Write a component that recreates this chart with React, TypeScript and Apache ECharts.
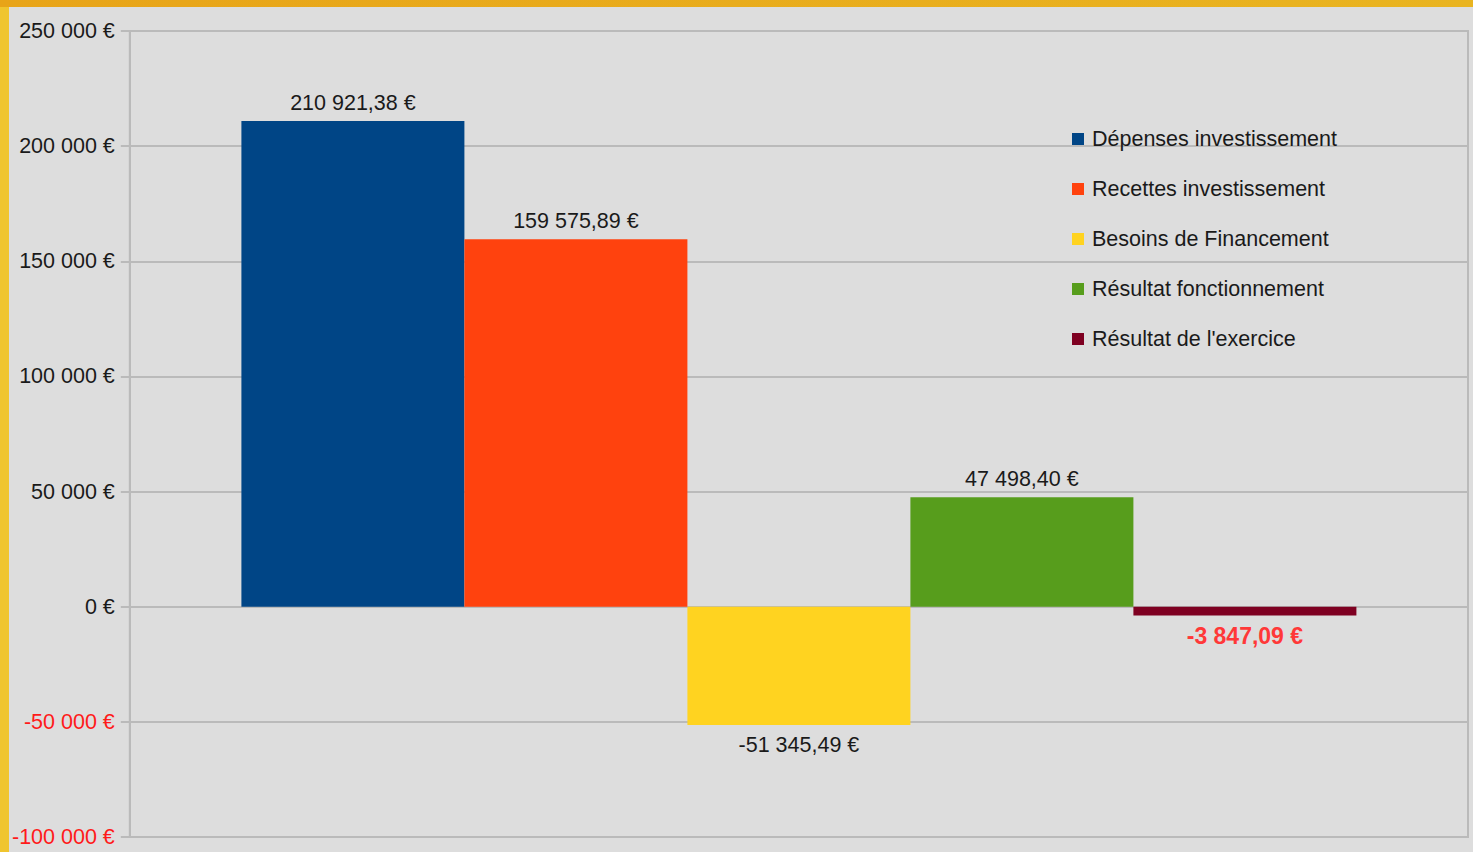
import React, { useEffect, useRef } from "react";
import * as echarts from "echarts";

const seriesNames = [
  "Dépenses investissement",
  "Recettes investissement",
  "Besoins de Financement",
  "Résultat fonctionnement",
  "Résultat de l'exercice",
];
const seriesValues = [210921.38, 159575.89, -51345.49, 47498.4, -3847.09];
const seriesColors = ["#004586", "#ff420e", "#ffd320", "#579d1c", "#7e0021"];
const categories = [""];
const yMin = -100000;
const yMax = 250000;
const yInterval = 50000;

const FONT = "'Liberation Sans', Arial, sans-serif";
const FS = 21.5;

function fmtNum(v: number, decimals: number): string {
  const neg = v < 0;
  const s = Math.abs(v).toFixed(decimals);
  const [intPart, decPart] = s.split(".");
  const grouped = intPart.replace(/\B(?=(\d{3})+(?!\d))/g, " ");
  return (neg ? "-" : "") + grouped + (decPart ? "," + decPart : "") + " €";
}

export default function App() {
  const ref = useRef<HTMLDivElement>(null);
  useEffect(() => {
    if (!ref.current) return;
    const chart = echarts.init(ref.current, null, { renderer: "svg" });
    const series = seriesNames.map((name, i) => {
      const v = seriesValues[i];
      const isLast = i === seriesNames.length - 1;
      return {
        name,
        type: "bar",
        barWidth: 223,
        barGap: "0%",
        itemStyle: { color: seriesColors[i] },
        data: [
          {
            value: v,
            label: {
              show: true,
              position: v < 0 ? "bottom" : "top",
              distance: v < 0 ? 9 : 7,
              formatter: () => fmtNum(v, 2),
              fontSize: isLast ? 23 : FS,
              fontFamily: FONT,
              fontWeight: isLast ? "bold" : "normal",
              color: isLast ? "#ff3838" : "#1a1a1a",
            },
          },
        ],
      };
    });
    chart.setOption({
      animation: false,
      backgroundColor: "#dddddd",
      textStyle: { fontFamily: FONT },
      grid: {
        left: 120,
        right: 5,
        top: 24,
        bottom: 15,
        show: true,
        borderColor: "#bababa",
        borderWidth: 2,
      },
      legend: {
        orient: "vertical",
        left: 1063,
        top: 121,
        padding: 0,
        itemGap: 28,
        itemWidth: 12,
        itemHeight: 12,
        icon: "rect",
        data: seriesNames,
        textStyle: {
          fontSize: FS,
          fontFamily: FONT,
          color: "#1a1a1a",
          padding: [0, 0, 0, 3],
        },
      },
      xAxis: {
        type: "category",
        data: categories,
        axisLine: { show: false },
        axisTick: { show: false },
        axisLabel: { show: false },
        splitLine: { show: false },
      },
      yAxis: {
        type: "value",
        min: yMin,
        max: yMax,
        interval: yInterval,
        axisLine: { show: true, lineStyle: { color: "#bababa", width: 2 } },
        axisTick: {
          show: true,
          length: 9,
          lineStyle: { color: "#bababa", width: 2 },
        },
        splitLine: { show: true, lineStyle: { color: "#bababa", width: 2 } },
        axisLabel: {
          margin: 15,
          formatter: (val: number) =>
            val < 0 ? `{neg|${fmtNum(val, 0)}}` : `{pos|${fmtNum(val, 0)}}`,
          rich: {
            neg: { color: "#ff1a1a", fontSize: FS, fontFamily: FONT },
            pos: { color: "#1a1a1a", fontSize: FS, fontFamily: FONT },
          },
        },
      },
      series,
    });
    return () => chart.dispose();
  }, []);

  return (
    <div
      style={{
        position: "absolute",
        left: 0,
        top: 0,
        width: 1473,
        height: 852,
        background: "#f0c52e",
        overflow: "hidden",
      }}
    >
      <div
        style={{
          position: "absolute",
          left: 0,
          top: 0,
          width: 1473,
          height: 7,
          background: "linear-gradient(to right, #e8a418, #e9b420)",
        }}
      />
      <div
        ref={ref}
        style={{ position: "absolute", left: 9, top: 7, width: 1464, height: 845 }}
      />
    </div>
  );
}
